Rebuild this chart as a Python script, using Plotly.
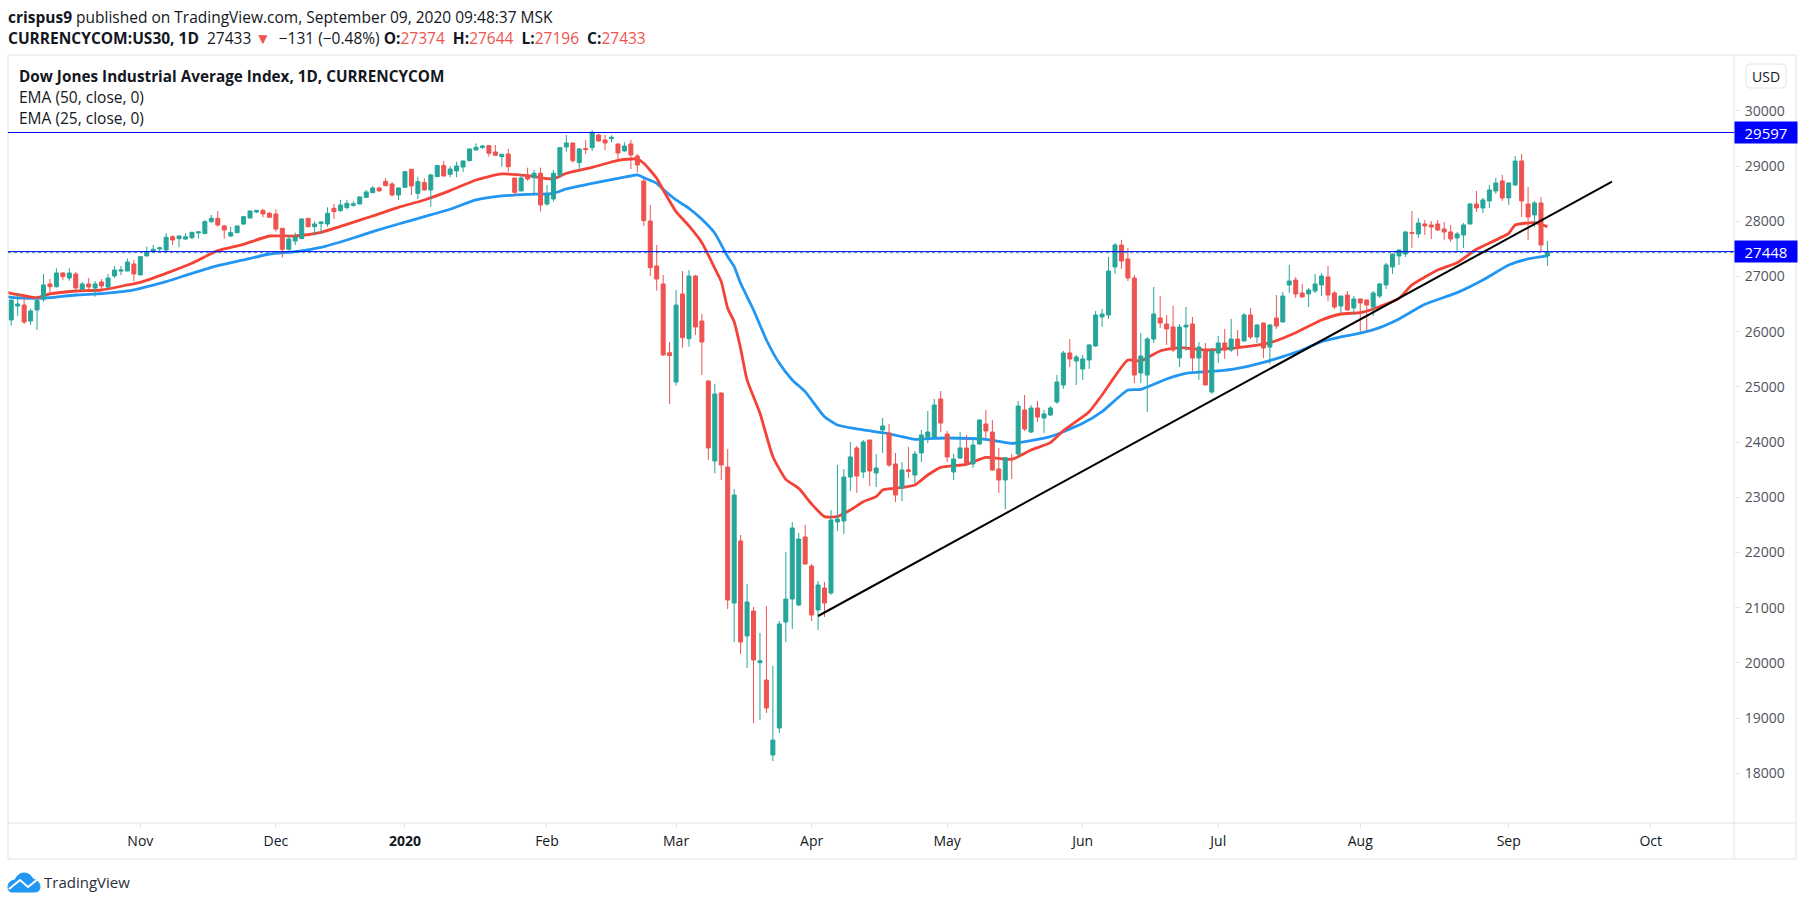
import plotly.graph_objects as go

# daily candles, oldest first
opens = [26214, 26467, 26485, 26195, 26395, 26588, 26866, 26817, 27065, 26974,
         27047, 26769, 26866, 26793, 26902, 26811, 27011, 27100, 27101, 27228,
         27029, 27373, 27452, 27500, 27482, 27723, 27687, 27680, 27705, 27790,
         27778, 27995, 28055, 27917, 27735, 27796, 27953, 28061, 28170, 28200,
         28146, 28134, 27874, 27494, 27645, 27687, 28055, 27904, 27960, 27953,
         28237, 28194, 28249, 28290, 28315, 28436, 28520, 28605, 28726, 28677,
         28478, 28617, 28943, 28508, 28702, 28569, 28810, 29010, 28853, 28913,
         28985, 29100, 29293, 29340, 29372, 29257, 29173, 29221, 28786, 28551,
         28841, 28792, 28871, 28315, 28406, 28841, 29348, 29420, 29064, 29320,
         29336, 29565, 29475, 29500, 29402, 29275, 29402, 29185, 28732, 28007,
         27192, 26866, 25620, 25090, 26685, 25875, 27011, 26195, 25108, 23659,
         24891, 23550, 21086, 22210, 20489, 20941, 20005, 19691, 18333, 18822,
         20742, 21159, 21050, 22282, 21757, 20960, 21358, 21268, 22554, 22572,
         23369, 23895, 23460, 24039, 23442, 24221, 24166, 23605, 23170, 23500,
         23405, 23804, 24094, 24094, 24782, 24148, 23460, 23713, 23895, 23605,
         23967, 24329, 24184, 23514, 23315, 23710, 23786, 24583, 24184, 24619,
         24438, 24492, 24728, 25036, 25616, 25471, 25326, 25489, 25743, 26268,
         26304, 27174, 27572, 27319, 26974, 25253, 25217, 25869, 26250, 26141,
         26087, 25525, 26087, 26141, 25525, 25670, 24909, 25616, 25797, 25670,
         25869, 25833, 26304, 25906, 26159, 25724, 26250, 26177, 26848, 26938,
         26703, 26685, 26739, 26848, 26993, 26703, 26467, 26666, 26431, 26594,
         26576, 26449, 26648, 26848, 27174, 27373, 27409, 27800, 27772, 27953,
         27935, 27953, 27862, 27808, 27699, 27753, 27953, 28315, 28243, 28370,
         28551, 28732, 28424, 28659, 29094, 28315, 28116, 28333, 27374]
highs = [26576, 26697, 26636, 26420, 26636, 27047, 26956, 27150, 27083, 27150,
         27083, 26902, 26974, 26920, 26956, 27047, 27192, 27192, 27330, 27300,
         27361, 27542, 27572, 27542, 27784, 27747, 27745, 27784, 27810, 27825,
         28025, 28116, 28188, 27935, 27900, 27925, 28095, 28195, 28205, 28220,
         28175, 28219, 27880, 27753, 27796, 28055, 28060, 28001, 28001, 28255,
         28315, 28388, 28388, 28365, 28455, 28570, 28640, 28630, 28786, 28714,
         28615, 28915, 28950, 28810, 28780, 28859, 29015, 29094, 29000, 29082,
         29100, 29320, 29414, 29385, 29380, 29384, 29225, 29312, 28790, 28853,
         28973, 28931, 28973, 28659, 28931, 29345, 29565, 29430, 29325, 29475,
         29650, 29590, 29565, 29560, 29410, 29432, 29475, 29221, 28770, 28297,
         27572, 27029, 25815, 26757, 27101, 27119, 27030, 26322, 25120, 25054,
         24900, 23876, 23152, 22318, 21431, 21014, 20543, 21032, 19945, 20760,
         22010, 22554, 22355, 22500, 21793, 21485, 21467, 22771, 23587, 23514,
         24003, 23931, 24039, 24045, 23786, 24438, 24329, 23804, 23641, 23913,
         23840, 24221, 24565, 24782, 24927, 24203, 23786, 24184, 24130, 24039,
         24410, 24583, 24402, 23895, 23725, 23786, 24746, 24855, 24674, 24746,
         24583, 24655, 25217, 25652, 25869, 25580, 25580, 25780, 26377, 26413,
         27355, 27609, 27663, 27518, 27029, 25978, 25906, 26811, 26648, 26304,
         26467, 26141, 26449, 26268, 25815, 25797, 25706, 25924, 26051, 26232,
         26032, 26340, 26431, 26141, 26165, 26141, 26666, 26721, 27210, 26993,
         26866, 26793, 27047, 27065, 27192, 26739, 26650, 26739, 26648, 26600,
         26580, 26739, 26884, 27246, 27415, 27490, 27826, 28188, 28061, 28025,
         28007, 28025, 27989, 27935, 27808, 27971, 28333, 28551, 28424, 28659,
         28786, 28841, 28700, 29185, 29221, 28623, 28370, 28442, 27644]
lows = [26111, 26286, 26141, 26123, 26032, 26546, 26685, 26800, 26938, 26926,
        26769, 26769, 26769, 26636, 26750, 26780, 26974, 27029, 27100, 26914,
        27029, 27373, 27440, 27452, 27452, 27572, 27530, 27663, 27675, 27690,
        27778, 27975, 27904, 27687, 27715, 27785, 27935, 28055, 28150, 28074,
        28060, 27814, 27343, 27470, 27572, 27687, 27890, 27747, 27784, 27904,
        28043, 28176, 28218, 28267, 28310, 28420, 28510, 28540, 28635, 28448,
        28388, 28610, 28478, 28406, 28560, 28267, 28810, 28815, 28798, 28798,
        28895, 29085, 29285, 29310, 29173, 29190, 28991, 28901, 28460, 28545,
        28738, 28508, 28176, 28285, 28357, 28780, 29263, 29064, 28931, 29221,
        29275, 29440, 29293, 29432, 29130, 29260, 28949, 28889, 27917, 27011,
        26745, 25570, 24690, 25024, 25712, 25730, 25942, 25217, 23677, 23436,
        23315, 20978, 20380, 20162, 19909, 18912, 18967, 19094, 18224, 18731,
        20380, 20615, 21030, 21780, 20760, 20597, 20833, 21231, 22391, 22337,
        23116, 23079, 23351, 23206, 23188, 23804, 23550, 22916, 22934, 23351,
        23261, 23641, 23985, 24085, 24184, 23641, 23315, 23695, 23587, 23532,
        23949, 24076, 23478, 23079, 22789, 23333, 23750, 24203, 24166, 24366,
        24166, 24474, 24692, 24964, 25362, 25036, 25127, 25326, 25725, 26087,
        26232, 27047, 27138, 26920, 25072, 25072, 24547, 25797, 26069, 25761,
        25634, 25362, 25652, 25290, 25127, 25030, 24873, 25435, 25507, 25634,
        25561, 25825, 25869, 25797, 25525, 25416, 26051, 26170, 26703, 26612,
        26625, 26449, 26703, 26648, 26558, 26413, 26340, 26377, 26304, 26002,
        26002, 26286, 26612, 26775, 27047, 27210, 27355, 27518, 27699, 27753,
        27681, 27825, 27663, 27627, 27464, 27518, 27945, 28170, 28152, 28243,
        28496, 28370, 28297, 28641, 28080, 27663, 27898, 27464, 27196]
closes = [26576, 26503, 26177, 26377, 26564, 26848, 26817, 27065, 26999, 27065,
          26793, 26866, 26811, 26866, 26830, 26974, 27119, 27119, 27264, 27047,
          27361, 27452, 27494, 27520, 27711, 27663, 27735, 27720, 27802, 27810,
          27995, 28055, 27935, 27844, 27796, 27917, 28086, 28188, 28200, 28134,
          28074, 27862, 27494, 27681, 27711, 28043, 27904, 27953, 27990, 28146,
          28176, 28297, 28327, 28320, 28442, 28533, 28605, 28551, 28647, 28478,
          28605, 28901, 28641, 28720, 28569, 28841, 29010, 28822, 28949, 29004,
          29094, 29312, 29342, 29365, 29233, 29197, 29215, 28991, 28526, 28786,
          28768, 28871, 28297, 28478, 28871, 29336, 29420, 29100, 29312, 29300,
          29614, 29456, 29420, 29525, 29239, 29366, 29203, 29022, 28013, 27162,
          26956, 25579, 25570, 26485, 25893, 27011, 26087, 25815, 23895, 24873,
          23587, 21141, 23043, 20380, 21105, 20054, 20040, 19184, 18604, 20706,
          21159, 22445, 22246, 21793, 20869, 21413, 21086, 22590, 22608, 23369,
          23732, 23387, 24003, 23478, 23532, 24293, 23587, 23043, 23496, 23470,
          23786, 24130, 24184, 24674, 24347, 23732, 23695, 23895, 23623, 23949,
          24402, 24203, 23496, 23315, 23719, 23690, 24655, 24239, 24619, 24456,
          24511, 24619, 25090, 25616, 25507, 25543, 25507, 25761, 26304, 26322,
          27101, 27572, 27282, 26974, 25217, 25561, 25869, 26322, 26159, 26051,
          25670, 26087, 26120, 25525, 25724, 25036, 25652, 25797, 25670, 25869,
          25743, 26304, 25906, 26123, 25706, 26123, 26105, 26648, 26920, 26685,
          26630, 26757, 26866, 27011, 26666, 26449, 26648, 26395, 26594, 26522,
          26485, 26703, 26866, 27210, 27409, 27482, 27808, 27785, 27971, 27917,
          27898, 27844, 27808, 27681, 27772, 27935, 28315, 28243, 28388, 28569,
          28696, 28424, 28696, 29094, 28370, 28080, 28333, 27572, 27433]

# EMA lines, read at the bars where they bend
ema25_bars = [-1, 0, 2, 4, 6, 10, 14, 18, 20, 24, 28, 32, 36, 40, 44, 48, 52, 56, 60, 64, 68,
              72, 76, 80, 84, 86, 90, 94, 96, 97, 98, 100, 101, 103, 105, 107, 109, 110,
              111, 112, 113, 114, 116, 118, 120, 122, 124, 126, 128, 130, 132, 134, 135,
              137, 140, 142, 144, 148, 151, 155, 158, 161, 163, 167, 169, 173, 175, 178,
              181, 185, 190, 195, 199, 203, 206, 209, 211, 215, 217, 221, 224, 227, 232,
              233, 236, 238]
ema25 = [26730, 26697, 26654, 26618, 26685, 26739, 26757, 26848, 26896, 27059, 27240, 27470, 27584,
         27735, 27735, 27802, 27947, 28098, 28255, 28388, 28557, 28750, 28859, 28828, 28768,
         28871, 28979, 29106, 29130, 29130, 29052, 28780, 28569, 28176, 27917, 27615, 27150,
         26908, 26425, 26183, 25700, 25127, 24523, 23737, 23327, 23164, 22880, 22651, 22651,
         22771, 22922, 23013, 23134, 23164, 23224, 23405, 23544, 23599, 23725, 23689, 23858,
         23991, 24209, 24553, 24855, 25489, 25471, 25652, 25712, 25670, 25712, 25803, 25984,
         26214, 26322, 26347, 26413, 26606, 26848, 27119, 27252, 27494, 27784, 27935, 27977,
         27904]
ema50_bars = [-1, 0, 2, 4, 6, 10, 14, 18, 20, 24, 28, 32, 36, 40, 44, 48, 52, 56, 60, 64, 68,
              72, 76, 80, 84, 86, 90, 94, 96, 97, 98, 100, 101, 103, 105, 107, 109, 111,
              112, 113, 115, 117, 119, 121, 123, 126, 128, 132, 135, 138, 140, 143, 145,
              151, 155, 161, 166, 169, 173, 175, 179, 182, 187, 190, 194, 197, 200, 203,
              207, 209, 212, 215, 219, 224, 228, 232, 235, 238]
ema50 = [26640, 26624, 26610, 26606, 26618, 26666, 26691, 26739, 26787, 26908, 27059, 27198, 27301,
         27409, 27452, 27530, 27663, 27814, 27953, 28086, 28219, 28388, 28460, 28490, 28508,
         28587, 28690, 28780, 28822, 28841, 28792, 28690, 28581, 28388, 28237, 28037, 27784,
         27361, 27180, 26878, 26395, 25851, 25428, 25127, 24915, 24462, 24311, 24221, 24172,
         24100, 24051, 24070, 24076, 24051, 23979, 24100, 24341, 24553, 24945, 24957, 25145,
         25247, 25290, 25338, 25447, 25549, 25670, 25821, 25930, 25975, 26075, 26232, 26497,
         26709, 26938, 27210, 27319, 27373]

trend_bars = [125, 248]
trend_prices = [20851, 28720]
level_prices = [29610, 27452]
level_labels = ["29597", "27448"]
last_close = 27433

price_ticks = [18000, 19000, 20000, 21000, 22000, 23000, 24000, 25000, 26000, 27000,
               28000, 29000, 30000]
month_bars = [20, 41, 61, 83, 103, 124, 145, 166, 187, 209, 232, 254]
month_labels = ["Nov", "Dec", "<b>2020</b>", "Feb", "Mar", "Apr", "May", "Jun", "Jul", "Aug",
                "Sep", "Oct"]

GREEN = "#26a69a"
RED = "#ef5350"
TEXT = "#131722"
BORDER = "#e0e3eb"
FONT = "Open Sans"

# where the plot box sits on the page
W, H = 1805, 906
LEFT, RIGHT, TOP, BOTTOM = 8, 1734, 55, 823
bar_range = [-0.5, 266.9]
price_range = [17101, 31014]


def px(x):
    return (x - LEFT) / (RIGHT - LEFT)


def py(y):
    return (BOTTOM - y) / (BOTTOM - TOP)


def label(x, y, text, size=14, color=TEXT):
    fig.add_annotation(x=px(x), y=py(y), xref="paper", yref="paper", text=text, showarrow=False,
                       xanchor="left", yanchor="middle", align="left",
                       font=dict(family=FONT, size=size, color=color))


def frame_line(x0, y0, x1, y1, color=BORDER, width=1):
    fig.add_shape(type="line", xref="paper", yref="paper", x0=px(x0), y0=py(y0), x1=px(x1), y1=py(y1),
                  line=dict(color=color, width=width))


def page_path(template):
    # template uses page pixels written as x,y pairs
    parts = []
    for token in template.split():
        if "," in token:
            a, b = token.split(",")
            parts.append(f"{px(float(a))},{py(float(b))}")
        else:
            parts.append(token)
    return " ".join(parts)


fig = go.Figure()

# EMAs go on the base axes, candles on an overlay so they sit on top of the lines
fig.add_trace(go.Scatter(x=ema50_bars, y=ema50, mode="lines",
                         line=dict(color="#2196f3", width=2.8, shape="spline", smoothing=0.5),
                         hoverinfo="skip"))
fig.add_trace(go.Scatter(x=ema25_bars, y=ema25, mode="lines",
                         line=dict(color="#f44336", width=2.8, shape="spline", smoothing=0.5),
                         hoverinfo="skip"))
fig.add_trace(go.Candlestick(x=list(range(len(closes))), open=opens, high=highs, low=lows, close=closes,
                             xaxis="x2", yaxis="y2", whiskerwidth=0,
                             increasing=dict(line=dict(color=GREEN, width=1), fillcolor=GREEN),
                             decreasing=dict(line=dict(color=RED, width=1), fillcolor=RED),
                             hoverinfo="skip"))

fig.update_layout(
    width=W, height=H, showlegend=False, paper_bgcolor="white", plot_bgcolor="white",
    margin=dict(l=LEFT, r=W - RIGHT, t=TOP, b=H - BOTTOM, pad=0),
    boxgap=0.38, boxgroupgap=0,
    xaxis=dict(range=bar_range, tickmode="array", tickvals=month_bars, ticktext=month_labels,
               showgrid=False, zeroline=False, ticks="outside", ticklen=4, tickcolor=BORDER,
               showline=False, rangeslider=dict(visible=False), ticklabelstandoff=1,
               tickfont=dict(family=FONT, size=14, color=TEXT)),
    yaxis=dict(range=price_range, side="right", tickmode="array", tickvals=price_ticks,
               showgrid=False, zeroline=False, ticks="outside", ticklen=5, tickcolor=BORDER,
               showline=False, tickformat="d", ticklabelstandoff=2,
               tickfont=dict(family=FONT, size=14, color="#50535e")),
    xaxis2=dict(range=bar_range, overlaying="x", visible=False, rangeslider=dict(visible=False)),
    yaxis2=dict(range=price_range, overlaying="y", side="right", visible=False),
)

# chart frame
frame_line(LEFT, TOP, 1796, TOP)
frame_line(LEFT, 859, 1796, 859)
frame_line(LEFT, TOP, LEFT, 859)
frame_line(1796, TOP, 1796, 859)
frame_line(RIGHT, TOP, RIGHT, 859)
frame_line(LEFT, BOTTOM, 1796, BOTTOM)

# drawings on top of the candles
fig.add_shape(type="line", xref="paper", yref="y", x0=0, x1=1, y0=last_close, y1=last_close,
              line=dict(color=GREEN, width=1, dash="dot"))
for price, text in zip(level_prices, level_labels):
    fig.add_shape(type="line", xref="paper", yref="y", x0=0, x1=1, y0=price, y1=price,
                  line=dict(color="#0000ff", width=1))
    fig.add_annotation(x=1, y=price, xref="paper", yref="y", text=text, showarrow=False,
                       xanchor="left", yanchor="middle", width=62, height=21, bgcolor="#0000ff",
                       borderpad=0, font=dict(family=FONT, size=15, color="white"))
fig.add_shape(type="line", xref="x", yref="y", x0=trend_bars[0], x1=trend_bars[1],
              y0=trend_prices[0], y1=trend_prices[1], line=dict(color="black", width=2))

# header and chart legend
NB = "&nbsp;"
label(6, 17, "<b>crispus9</b> published on TradingView.com, September 09, 2020 09:48:37 MSK", 15.5)
label(6, 38, f"<b>CURRENCYCOM:US30, 1D</b>{NB}{NB}27433{NB}<span style='color:#ef5350'>▼</span>{NB}{NB}−131 (−0.48%) "
             f"<b>O:</b><span style='color:#ef5350'>27374</span> {NB}<b>H:</b><span style='color:#ef5350'>27644</span> {NB}"
             f"<b>L:</b><span style='color:#ef5350'>27196</span> {NB}<b>C:</b><span style='color:#ef5350'>27433</span>", 15.5)
label(17, 76, "<b>Dow Jones Industrial Average Index, 1D, CURRENCYCOM</b>", 15.3)
label(17, 97, "EMA (50, close, 0)", 15.5)
label(17, 118, "EMA (25, close, 0)", 15.5)

# USD button
fig.add_shape(type="path", xref="paper", yref="paper",
              path=page_path("M 1750,64 L 1782,64 Q 1786,64 1786,68 L 1786,84 Q 1786,88 1782,88 "
                             "L 1750,88 Q 1746,88 1746,84 L 1746,68 Q 1746,64 1750,64 Z"),
              line=dict(color=BORDER, width=1), fillcolor="white")
label(1750, 76, "USD", 14)

# TradingView logo
fig.add_shape(type="path", xref="paper", yref="paper",
              path=page_path("M 12,892 Q 8,892 8,887 Q 8,881 15,880 Q 18,873 24,873 Q 30,873 33,879 "
                             "Q 40,881 40,887 Q 40,892 35,892 Z"),
              line=dict(color="#2196f3", width=1), fillcolor="#2196f3")
fig.add_shape(type="path", xref="paper", yref="paper",
              path=page_path("M 9,889 L 20,880 L 28,887 L 38,879"),
              line=dict(color="white", width=2))
label(42, 882, "TradingView", 15, "#2a2e39")

fig.write_html("out.html", config={"displayModeBar": False}, post_script="document.body.style.margin='0';")
